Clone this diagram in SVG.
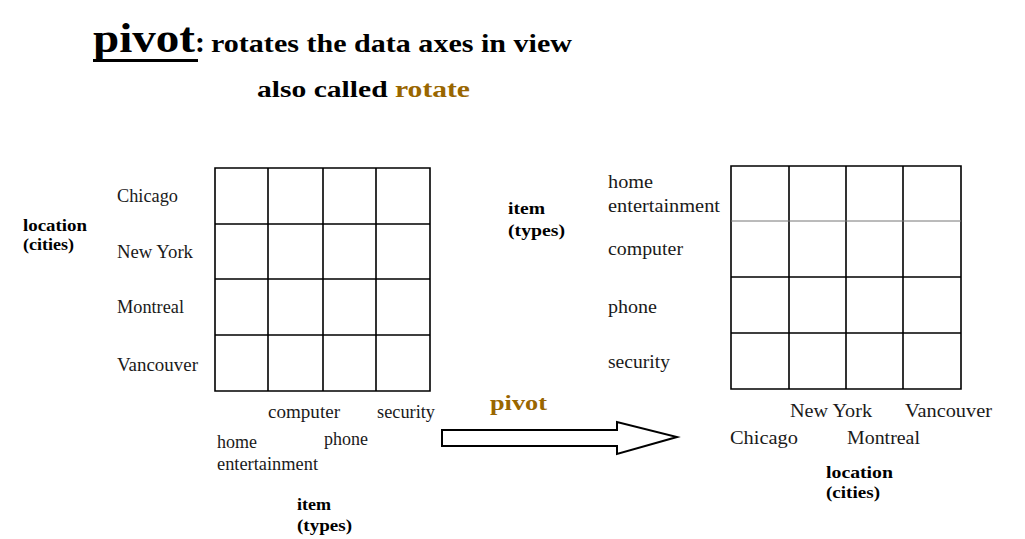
<svg xmlns="http://www.w3.org/2000/svg" width="1025" height="539" viewBox="0 0 1025 539">
<style>
.t{font-family:"Liberation Serif","Times New Roman",serif;fill:#1a1a1a}
.b{font-family:"Liberation Serif","Times New Roman",serif;font-weight:bold;fill:#000}
.l{font-size:18.5px}
.r{font-size:19.5px}
.ax{font-size:16px}
.ax2{font-size:17.5px}
.brown{fill:#996600}
.grid{stroke:#000;stroke-width:1.6;fill:none}
.thin{stroke:#777;stroke-width:1;fill:none}
</style>
<rect width="1025" height="539" fill="#fff"/>
<g id="title">
<text class="b" x="93" y="52" font-size="42" textLength="102" lengthAdjust="spacingAndGlyphs">pivot</text>
<rect x="93" y="59" width="105" height="3" fill="#000"/>
<text class="b" x="195" y="52" font-size="30">:</text>
<text class="b" x="211" y="52" font-size="25" textLength="361" lengthAdjust="spacingAndGlyphs">rotates the data axes in view</text>
<text class="b" x="257" y="97" font-size="24" textLength="213" lengthAdjust="spacingAndGlyphs">also called <tspan class="brown">rotate</tspan></text>
</g>
<g id="left-cube">
<path class="grid" d="M215 168H430V391H215Z M268 168V391 M323 168V391 M376 168V391 M215 224H430 M215 279H430 M215 335H430"/>
</g>
<g id="left-location">
<text class="b ax" x="23" y="231" textLength="64" lengthAdjust="spacingAndGlyphs">location</text>
<text class="b ax" x="23" y="250" textLength="51" lengthAdjust="spacingAndGlyphs">(cities)</text>
<text class="t l" x="117" y="202" textLength="61" lengthAdjust="spacingAndGlyphs">Chicago</text>
<text class="t l" x="117" y="258" textLength="76" lengthAdjust="spacingAndGlyphs">New York</text>
<text class="t l" x="117" y="313" textLength="67" lengthAdjust="spacingAndGlyphs">Montreal</text>
<text class="t l" x="117" y="371" textLength="81" lengthAdjust="spacingAndGlyphs">Vancouver</text>
</g>
<g id="left-item">
<text class="t l" x="268" y="418" textLength="72" lengthAdjust="spacingAndGlyphs">computer</text>
<text class="t l" x="377" y="418" textLength="58" lengthAdjust="spacingAndGlyphs">security</text>
<text class="t l" x="217" y="448" textLength="40" lengthAdjust="spacingAndGlyphs">home</text>
<text class="t l" x="324" y="445" textLength="44" lengthAdjust="spacingAndGlyphs">phone</text>
<text class="t l" x="217" y="470" textLength="101" lengthAdjust="spacingAndGlyphs">entertainment</text>
<text class="b ax" x="297" y="510" textLength="34" lengthAdjust="spacingAndGlyphs">item</text>
<text class="b ax" x="297" y="531" textLength="55" lengthAdjust="spacingAndGlyphs">(types)</text>
</g>
<g id="connectors">
<g id="pivot-arrow">
<path d="M442 430H617V422L677 437L617 454V446H442Z" fill="#fff" stroke="#000" stroke-width="2" stroke-linejoin="miter"/>
<text class="b brown" x="490" y="410" font-size="22" textLength="57" lengthAdjust="spacingAndGlyphs">pivot</text>
</g>
</g>
<g id="right-cube">
<path class="grid" d="M731 166H961V389H731Z M789 166V389 M846 166V389 M903 166V389 M731 277H961 M731 333H961"/>
<path class="thin" d="M731 221H961"/>
</g>
<g id="right-item">
<text class="b ax2" x="508" y="214" textLength="37" lengthAdjust="spacingAndGlyphs">item</text>
<text class="b ax2" x="508" y="236" textLength="57" lengthAdjust="spacingAndGlyphs">(types)</text>
<text class="t r" x="608" y="188" textLength="45" lengthAdjust="spacingAndGlyphs">home</text>
<text class="t r" x="608" y="212" textLength="112" lengthAdjust="spacingAndGlyphs">entertainment</text>
<text class="t r" x="608" y="255" textLength="75" lengthAdjust="spacingAndGlyphs">computer</text>
<text class="t r" x="608" y="313" textLength="49" lengthAdjust="spacingAndGlyphs">phone</text>
<text class="t r" x="608" y="368" textLength="62" lengthAdjust="spacingAndGlyphs">security</text>
</g>
<g id="right-location">
<text class="t r" x="790" y="417" textLength="82" lengthAdjust="spacingAndGlyphs">New York</text>
<text class="t r" x="905" y="417" textLength="87" lengthAdjust="spacingAndGlyphs">Vancouver</text>
<text class="t r" x="730" y="444" textLength="68" lengthAdjust="spacingAndGlyphs">Chicago</text>
<text class="t r" x="847" y="444" textLength="73" lengthAdjust="spacingAndGlyphs">Montreal</text>
<text class="b ax2" x="826" y="478" textLength="67" lengthAdjust="spacingAndGlyphs">location</text>
<text class="b ax2" x="826" y="498" textLength="54" lengthAdjust="spacingAndGlyphs">(cities)</text>
</g>
</svg>
